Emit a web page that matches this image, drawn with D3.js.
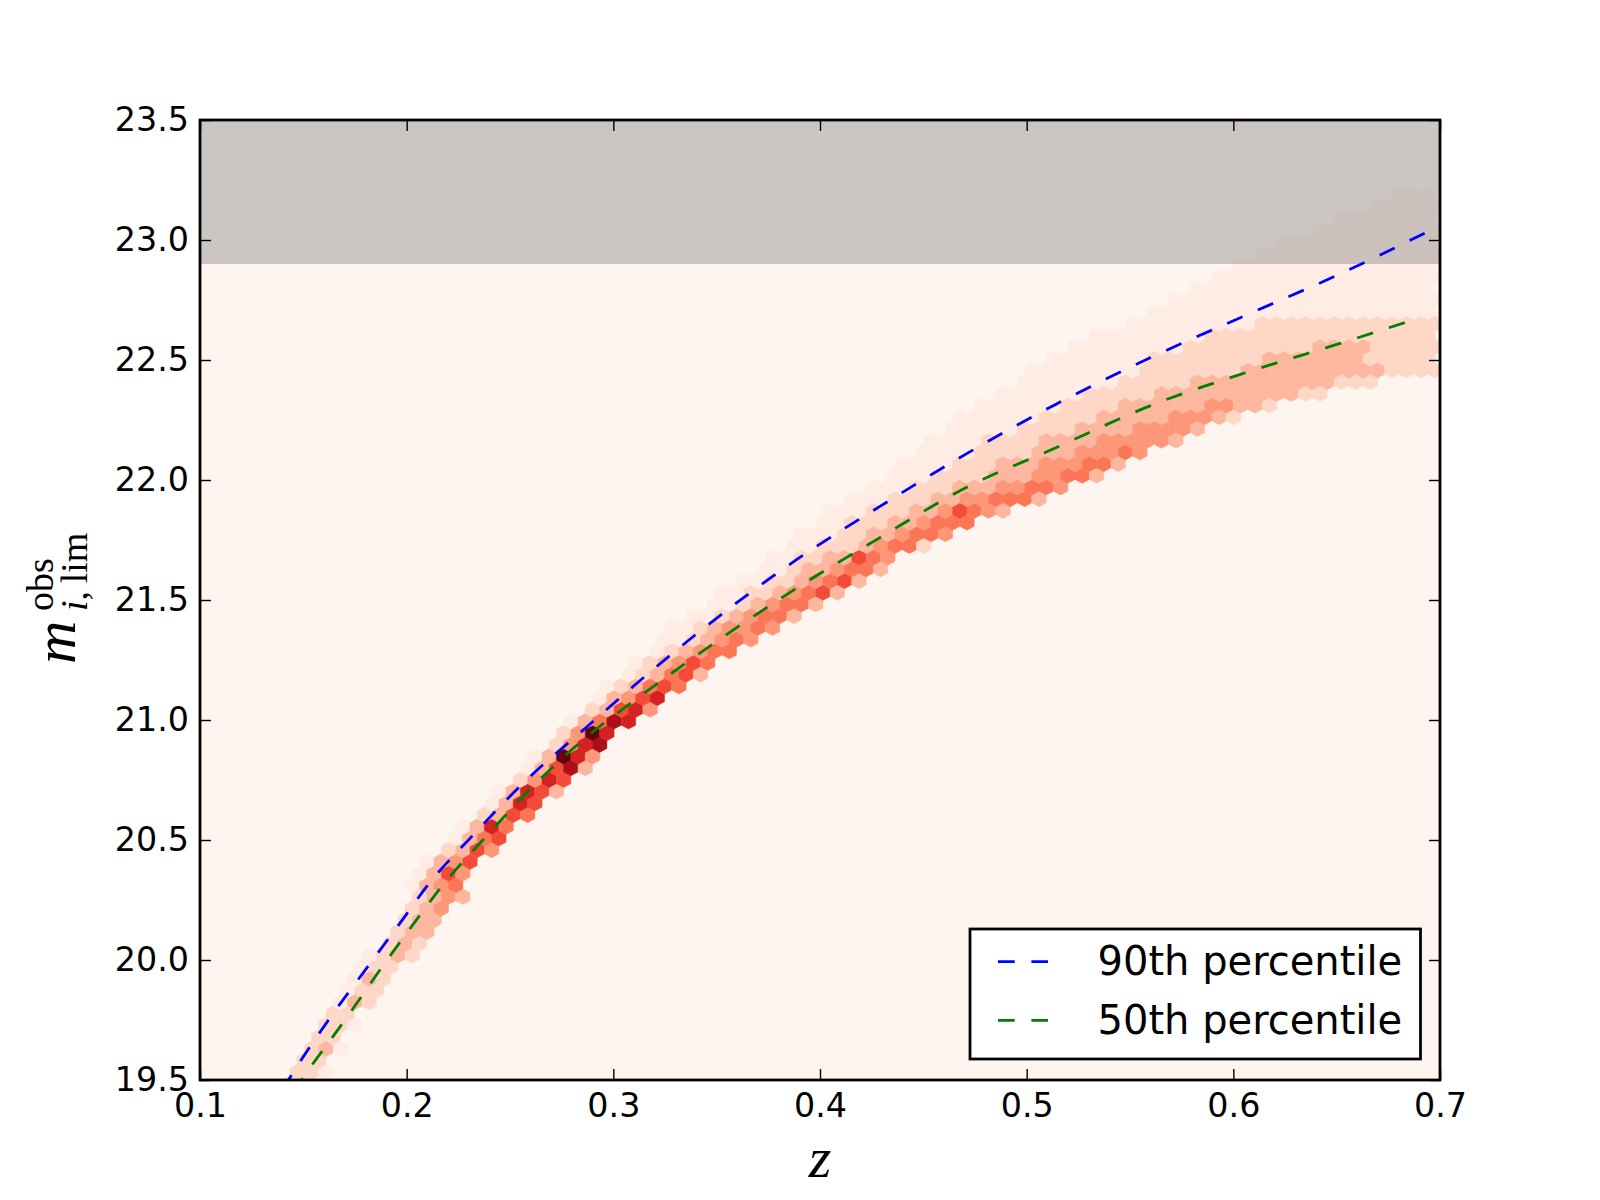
<!DOCTYPE html>
<html>
<head>
<meta charset="utf-8">
<script src="https://cdn.jsdelivr.net/npm/d3@7"></script>
<style>
  body { margin: 0; background: #fff; }
</style>
</head>
<body>
<div id="chart"></div>
<script>
// axis ticks
const xTicks = [0.1, 0.2, 0.3, 0.4, 0.5, 0.6, 0.7];
const yTicks = [19.5, 20.0, 20.5, 21.0, 21.5, 22.0, 22.5, 23.0, 23.5];

// percentile curves (z, m_lim)
const p90Z = [0.140, 0.145, 0.163, 0.181, 0.199, 0.210, 0.231, 0.258, 0.287, 0.311, 0.339, 0.389, 0.429, 0.471, 0.514, 0.560, 0.607, 0.652, 0.693];
const p90M = [19.46, 19.53, 19.76, 19.97, 20.18, 20.31, 20.51, 20.75, 20.97, 21.15, 21.35, 21.67, 21.89, 22.11, 22.315, 22.51, 22.69, 22.86, 23.03];
const p50Z = [0.145, 0.149, 0.171, 0.188, 0.205, 0.2145, 0.239, 0.263, 0.290, 0.310, 0.3355, 0.387, 0.429, 0.471, 0.513, 0.560, 0.607, 0.652, 0.688];
const p50M = [19.45, 19.50, 19.76, 19.97, 20.17, 20.28, 20.52, 20.74, 20.95, 21.08, 21.24, 21.54, 21.76, 21.97, 22.13, 22.31, 22.45, 22.57, 22.67];

// limit above which the survey is cut (shaded band)
const cutMag = 22.9;

// hexbin grid (data units): one hex centre and the cell spacing
const hexZ0 = 0.2899, hexM0 = 20.946, hexDZ = 0.00697, hexDM = 0.0975;
// hex rows, bottom to top; each row starts at column hexRowStart[i], one digit per cell = count level
const hexRowFirst = -31;
const hexRowStart = [
  -22, -21, -21, -20, -20, -19, -19, -18, -18, -17,
  -17, -16, -16, -14, -14, -13, -13, -12, -13, -12,
  -12, -10, -10, -9, -8, -7, -7, -5, -5, -4,
  -3, -2, -2, 0, 0, 1, 2, 3, 4, 5,
  5, 7, 8, 9, 10, 12, 12, 14, 14, 16,
  16, 18, 19, 21, 21, 23, 23, 25, 25, 27,
  28, 30, 30, 32, 33, 35, 37, 39, 40, 42,
  43, 45, 46, 48, 50, 52, 54, 56
];
const hexRowLevels = [
  '2', '22', '221', '22', '231', '22', '221', '22', '132', '122',
  '132', '122', '1232', '232', '233', '233', '234', '2343', '1345', '1364',
  '1346', '2364', '1356', '1375', '2365', '1376', '13763', '2476', '13683', '13974',
  '2478', '2497', '13587', '23674', '13467', '123565', '123563', '123465', '123455', '1123454',
  '11234454', '11234553', '11234553', '112234563', '112234563', '112334553', '112233654', '1122234552', '11122334554', '11222334555',
  '1112223346543', '11122233445553', '11122233344554', '111222233344553', '1111222333444553', '1111222233344454', '111122223333444443', '111112222333344443', '11111122223333344432', '111111222233333344332',
  '11111122222333333333322', '1111111222223333333333222', '11111111222222233333333332222', '111111122222222333333322222', '11111111222222222333322222', '111111112222222222222222', '1111111112222222222222', '11111111111111111111', '1111111111111111111', '11111111111111111',
  '1111111111111111', '11111111111111', '1111111111111', '11111111111', '111111111', '1111111', '11111', '111'
];
// share of the Reds ramp for each count level
const levelShade = [0, 0.05, 0.15, 0.26, 0.36, 0.46, 0.58, 0.72, 0.85, 1.0];

const W = 1600, H = 1200;
const pL = 200, pR = 1440, pT = 120, pB = 1080;

const svg = d3.select('#chart')
  .append('svg')
  .attr('width', W)
  .attr('height', H)
  .style('display', 'block');

const x = d3.scaleLinear().domain([0.1, 0.7]).range([pL, pR]);
const y = d3.scaleLinear().domain([19.5, 23.5]).range([pB, pT]);

svg.append('defs').append('clipPath')
  .attr('id', 'plot-clip')
  .append('rect')
  .attr('x', pL).attr('y', pT)
  .attr('width', pR - pL).attr('height', pB - pT);

// axes background = lowest colour of the map
svg.append('rect')
  .attr('x', pL).attr('y', pT)
  .attr('width', pR - pL).attr('height', pB - pT)
  .attr('fill', d3.interpolateReds(0));

// build hex cells from the row strings
const cells = [];
hexRowLevels.forEach((row, i) => {
  const r = hexRowFirst + i;
  const shift = Math.abs(r) % 2 ? 0.5 : 0;
  const m = hexM0 + r * hexDM / 2;
  for (let k = 0; k < row.length; k++) {
    const lvl = +row[k];
    if (!lvl) continue;
    const z = hexZ0 + (hexRowStart[i] + k + shift) * hexDZ;
    cells.push({ z: z, m: m, level: lvl });
  }
});

const hexPoints = d => {
  const hz = hexDZ / 2, m3 = hexDM / 3, m6 = hexDM / 6;
  return [
    [d.z, d.m + m3], [d.z + hz, d.m + m6], [d.z + hz, d.m - m6],
    [d.z, d.m - m3], [d.z - hz, d.m - m6], [d.z - hz, d.m + m6]
  ].map(p => `${x(p[0]).toFixed(2)},${y(p[1]).toFixed(2)}`).join(' ');
};

const plot = svg.append('g').attr('clip-path', 'url(#plot-clip)');

plot.append('g')
  .selectAll('polygon')
  .data(cells)
  .enter()
  .append('polygon')
  .attr('points', hexPoints)
  .attr('fill', d => d3.interpolateReds(levelShade[d.level]))
  .attr('stroke', d => d3.interpolateReds(levelShade[d.level]))
  .attr('stroke-width', 0.5);

// shaded cut region
plot.append('rect')
  .attr('x', x(0.1))
  .attr('y', y(23.5))
  .attr('width', x(0.7) - x(0.1))
  .attr('height', y(cutMag) - y(23.5))
  .attr('fill', '#808080')
  .attr('fill-opacity', 0.4);

const line = d3.line()
  .x(d => x(d[0]))
  .y(d => y(d[1]))
  .curve(d3.curveMonotoneX);

plot.append('path')
  .datum(p90Z.map((z, i) => [z, p90M[i]]))
  .attr('d', line)
  .attr('fill', 'none')
  .attr('stroke', '#0000ff')
  .attr('stroke-width', 2.8)
  .attr('stroke-dasharray', '16.7,16.7');

plot.append('path')
  .datum(p50Z.map((z, i) => [z, p50M[i]]))
  .attr('d', line)
  .attr('fill', 'none')
  .attr('stroke', '#008000')
  .attr('stroke-width', 2.8)
  .attr('stroke-dasharray', '16.7,16.7');

// axes: ticks inside on all four sides
const tickFont = g => {
  g.attr('font-family', '"DejaVu Sans", sans-serif').attr('font-size', 33.3);
  g.select('.domain').remove();
  g.selectAll('.tick line').attr('stroke', '#000').attr('stroke-width', 1.4);
  g.selectAll('.tick text').attr('fill', '#000');
};

svg.append('g')
  .attr('transform', `translate(0,${pB})`)
  .call(d3.axisBottom(x).tickValues(xTicks).tickFormat(d3.format('.1f'))
    .tickSizeInner(-11).tickSizeOuter(0).tickPadding(13.4))
  .call(tickFont);

svg.append('g')
  .attr('transform', `translate(0,${pT})`)
  .call(d3.axisTop(x).tickValues(xTicks).tickFormat('')
    .tickSizeInner(-11).tickSizeOuter(0))
  .call(tickFont);

svg.append('g')
  .attr('transform', `translate(${pL},0)`)
  .call(d3.axisLeft(y).tickValues(yTicks).tickFormat(d3.format('.1f'))
    .tickSizeInner(-11).tickSizeOuter(0).tickPadding(11.1))
  .call(tickFont);

svg.append('g')
  .attr('transform', `translate(${pR},0)`)
  .call(d3.axisRight(y).tickValues(yTicks).tickFormat('')
    .tickSizeInner(-11).tickSizeOuter(0))
  .call(tickFont);

svg.append('rect')
  .attr('x', pL).attr('y', pT)
  .attr('width', pR - pL).attr('height', pB - pT)
  .attr('fill', 'none')
  .attr('stroke', '#000')
  .attr('stroke-width', 2.78);

// axis labels
svg.append('text')
  .attr('x', 820)
  .attr('y', 1177)
  .attr('text-anchor', 'middle')
  .attr('font-family', '"Liberation Serif", serif')
  .attr('font-style', 'italic')
  .attr('font-size', 58)
  .text('z');

const ylab = svg.append('g')
  .attr('transform', 'translate(75,600) rotate(-90)')
  .attr('font-family', '"Liberation Serif", serif');
ylab.append('text')
  .attr('x', -64).attr('y', 0)
  .attr('font-style', 'italic')
  .attr('font-size', 60)
  .text('m');
ylab.append('text')
  .attr('x', -11).attr('y', -22)
  .attr('font-size', 38)
  .text('obs');
const sub = ylab.append('text')
  .attr('x', -11).attr('y', 12)
  .attr('font-size', 38);
sub.append('tspan').attr('font-style', 'italic').text('i');
sub.append('tspan').text(',\u2009lim');

// legend
const legend = svg.append('g');
legend.append('rect')
  .attr('x', 970).attr('y', 929)
  .attr('width', 450.5).attr('height', 130)
  .attr('fill', '#fff')
  .attr('stroke', '#000')
  .attr('stroke-width', 2.78);

const legendItems = [
  { label: '90th percentile', color: '#0000ff', y: 961.7 },
  { label: '50th percentile', color: '#008000', y: 1020.3 }
];
legendItems.forEach(it => {
  legend.append('line')
    .attr('x1', 998).attr('x2', 1048)
    .attr('y1', it.y).attr('y2', it.y)
    .attr('stroke', it.color)
    .attr('stroke-width', 2.8)
    .attr('stroke-dasharray', '16.7,16.7');
  legend.append('text')
    .attr('x', 1097.5)
    .attr('y', it.y + 13.5)
    .attr('font-family', '"DejaVu Sans", sans-serif')
    .attr('font-size', 40)
    .attr('fill', '#000')
    .text(it.label);
});
</script>
</body>
</html>
